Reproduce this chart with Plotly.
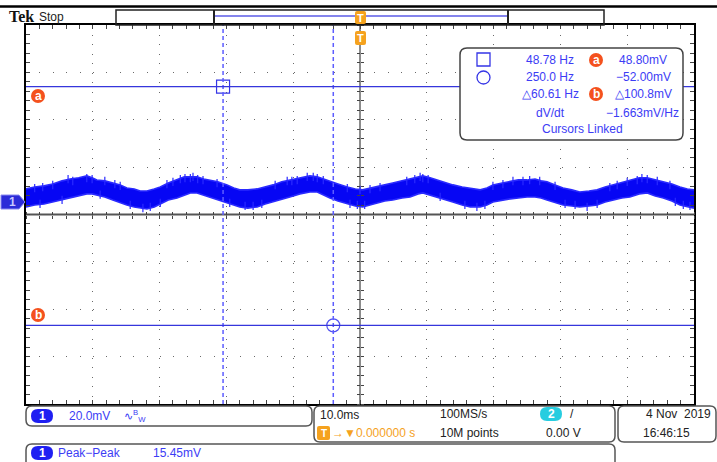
import plotly.graph_objects as go

# ------------------------------------------------------------------ data
# time (ms, trigger at 0) and the noisy band envelope of channel 1 (mV)
t_ms = [-50.0, -48.7, -47.3, -46.0, -44.6, -43.4, -42.1, -40.9, -40.1, -39.4,
        -38.2, -37.0, -35.9, -34.9, -33.8, -32.9, -31.9, -30.8, -29.9, -28.7,
        -27.4, -26.3, -25.4, -24.4, -23.4, -22.5, -21.3, -19.9, -18.9, -18.0,
        -16.8, -15.4, -14.2, -13.0, -11.7, -10.5, -9.0, -7.5, -6.4, -5.5,
        -4.5, -3.3, -1.9, -0.7, 0.4, 1.5, 2.5, 3.7, 4.9, 6.3,
        7.5, 8.7, 9.4, 10.5, 11.5, 12.7, 13.9, 15.3, 16.5, 18.0,
        19.0, 19.9, 21.3, 22.5, 23.7, 25.0, 26.2, 27.1, 28.0, 29.2,
        30.4, 31.7, 32.9, 34.3, 35.5, 36.7, 37.9, 39.2, 40.4, 41.8,
        43.0, 44.2, 45.4, 46.7, 47.9, 49.0, 50.0]
upper_mV = [5.6, 6.4, 6.9, 7.7, 9.0, 9.8, 10.3, 11.1, 10.3, 9.4,
            9.0, 8.1, 7.3, 6.0, 5.6, 4.7, 4.7, 5.6, 6.4, 8.1,
            9.4, 10.7, 10.7, 10.7, 9.8, 9.4, 8.6, 7.3, 6.0, 5.2,
            5.2, 5.6, 6.4, 7.3, 8.6, 9.4, 10.3, 11.1, 10.7, 9.8,
            8.6, 7.7, 6.4, 5.6, 5.2, 6.0, 6.4, 7.3, 8.1, 9.0,
            9.8, 10.7, 11.1, 10.3, 9.4, 8.6, 7.3, 6.4, 6.0, 5.2,
            6.0, 7.3, 8.1, 8.6, 9.4, 9.4, 9.8, 9.0, 8.6, 7.3,
            6.0, 5.2, 4.3, 4.7, 5.2, 6.4, 7.3, 8.6, 9.4, 10.3,
            10.3, 9.4, 8.6, 7.7, 6.4, 5.6, 5.2]
lower_mV = [-2.0, -1.2, -0.8, 0.1, 0.9, 1.8, 2.6, 3.5, 3.5, 3.0,
            2.2, 0.9, -0.3, -1.2, -2.0, -2.5, -2.9, -2.0, -0.8, 0.9,
            1.8, 3.0, 3.9, 3.9, 3.0, 2.2, 0.9, -0.3, -1.2, -2.0,
            -2.5, -2.0, -0.8, 0.1, 1.4, 2.2, 3.5, 4.3, 4.3, 3.0,
            1.8, 0.5, -0.8, -1.6, -2.0, -1.2, -0.3, 0.5, 0.9, 1.8,
            2.2, 3.5, 3.9, 3.0, 2.2, 1.4, 0.1, -1.2, -2.0, -2.0,
            -1.2, 0.1, 0.9, 1.4, 1.8, 2.2, 2.2, 1.8, 0.9, -0.3,
            -1.2, -1.6, -2.0, -1.6, -1.2, 0.1, 0.9, 1.8, 2.2, 3.5,
            3.9, 2.6, 1.8, 0.5, -1.2, -2.0, -2.5]
# noise spikes poking out of the band (time ms, tip mV)
spike_up_t = [-48.7, -47.5, -46.0, -43.7, -43.0, -40.9, -40.1, -38.2, -36.7, -35.9,
              -28.9, -28.0, -26.9, -26.2, -25.4, -25.0, -24.3, -23.5, -21.4, -12.7,
              -10.9, -10.2, -9.4, -7.9, -7.0, -6.4, -5.5, -1.9, 0.0, 1.5,
              3.0, 7.0, 8.2, 9.0, 9.4, 10.2, 19.9, 21.4, 22.9, 24.4,
              25.4, 26.9, 29.2, 37.4, 38.5, 40.0, 41.5, 42.2, 43.0, 44.5, 46.4]
spike_up_mV = [7.7, 8.1, 9.0, 11.5, 10.7, 11.9, 11.5, 10.7, 9.4, 8.6,
               9.4, 10.3, 11.5, 11.9, 11.9, 12.4, 11.5, 11.1, 9.8, 9.0,
               10.7, 10.7, 11.1, 12.4, 12.4, 11.9, 11.1, 7.7, 6.9, 7.3,
               8.1, 10.7, 11.5, 12.4, 11.9, 11.5, 8.6, 9.4, 10.7, 10.7,
               11.1, 10.7, 8.6, 8.1, 9.0, 10.3, 11.1, 11.9, 11.5, 10.7, 9.0]
spike_dn_t = [-47.9, -44.6, -38.9, -34.4, -32.5, -31.4, -29.9, -19.5, -17.2, -16.0,
              -14.7, -1.5, -0.4, 0.7, 12.0, 15.7, 17.5, 18.7, 30.7, 32.2,
              34.0, 35.5, 47.2, 48.4, 49.4]
spike_dn_mV = [-2.5, -0.8, 1.4, -2.9, -4.2, -3.7, -2.0, -2.0, -3.3, -3.3,
               -2.5, -2.5, -2.9, -2.9, 0.5, -2.9, -3.7, -2.9, -2.5, -2.9,
               -3.7, -2.5, -1.6, -2.9, -3.3]

# cursors (time ms, level mV)
cursor_t_ms = [-20.5, -4.0]
cursor_v_mV = [48.80, -52.00]

# scope settings
mv_per_div = 20.0
ms_per_div = 10.0
ch1_position_div = 0.26
n_xdiv, n_ydiv = 10, 8

# readout texts
readout_freq = ["48.78 Hz", "250.0 Hz", "\u25B360.61 Hz", "dV/dt"]
readout_volt = ["48.80mV", "\u221252.00mV", "\u25B3100.8mV", "\u22121.663mV/Hz"]
readout_foot = "Cursors Linked"
ch1_scale = "20.0mV"
timebase = "10.0ms"
trig_pos = "\u25BC0.000000 s"
sample_rate = "100MS/s"
record_len = "10M points"
trig_level = "0.00 V"
date_str = "4 Nov  2019"
time_str = "16:46:15"
meas_name = "Peak\u2212Peak"
meas_val = "15.45mV"

# ------------------------------------------------------------------ layout geometry
W, H = 717, 462
L, R, T, B = 26, 694, 25, 404
FONT = "Liberation Sans"
BLUE_TXT = "#3c3cf5"
TRACE = "#0606f4"
EDGE = "#2a2aff"
ORANGE = "#f5a21e"
AB_RED = "#f4511e"
GRID = "#6a6a6a"

ymid_mV = -ch1_position_div * mv_per_div
half_h = n_ydiv / 2 * mv_per_div
half_w = n_xdiv / 2 * ms_per_div
x_major = [ms_per_div * k for k in range(-n_xdiv // 2 + 1, n_xdiv // 2)]
y_major = [ymid_mV + mv_per_div * k for k in range(-n_ydiv // 2 + 1, n_ydiv // 2) if k != 0]


def px(X):
    return (X - L) / (R - L)


def py(Y):
    return (B - Y) / (B - T)


def rrect(x0, y0, x1, y1, r):
    rx, ry = r / (R - L), r / (B - T)
    a0, b0, a1, b1 = px(x0), py(y1), px(x1), py(y0)
    return (f"M{a0+rx},{b0} L{a1-rx},{b0} Q{a1},{b0} {a1},{b0+ry} "
            f"L{a1},{b1-ry} Q{a1},{b1} {a1-rx},{b1} L{a0+rx},{b1} "
            f"Q{a0},{b1} {a0},{b1-ry} L{a0},{b0+ry} Q{a0},{b0} {a0+rx},{b0} Z")


fig = go.Figure()

# waveform band
fig.add_trace(go.Scatter(x=t_ms, y=lower_mV, mode="lines",
                         line=dict(color=EDGE, width=1.6), hoverinfo="skip", showlegend=False))
fig.add_trace(go.Scatter(x=t_ms, y=upper_mV, mode="lines",
                         fill="tonexty", fillcolor=TRACE,
                         line=dict(color=EDGE, width=1.6), hoverinfo="skip", showlegend=False))
sx, sy = [], []
for t, v in zip(spike_up_t, spike_up_mV):
    sx += [t, t, None]
    sy += [v, v - 3.5, None]
for t, v in zip(spike_dn_t, spike_dn_mV):
    sx += [t, t, None]
    sy += [v, v + 3.5, None]
fig.add_trace(go.Scatter(x=sx, y=sy, mode="lines",
                         line=dict(color=EDGE, width=1.2), hoverinfo="skip", showlegend=False))

# cursor markers
fig.add_trace(go.Scatter(x=[cursor_t_ms[0]], y=[cursor_v_mV[0]], mode="markers",
                         marker=dict(symbol="square-open", size=13, color="#3535e6", line=dict(width=1.2)),
                         hoverinfo="skip", showlegend=False))
fig.add_trace(go.Scatter(x=[cursor_t_ms[1]], y=[cursor_v_mV[1]], mode="markers",
                         marker=dict(symbol="circle-open", size=13, color="#5050f0", line=dict(width=1.2)),
                         hoverinfo="skip", showlegend=False))

# dummy traces so the centre-tick axes exist
for xa, ya in [("x2", "y"), ("x3", "y"), ("x", "y2"), ("x", "y3")]:
    fig.add_trace(go.Scatter(x=[None], y=[None], xaxis=xa, yaxis=ya, showlegend=False, hoverinfo="skip"))

shapes = []
shapes.append(dict(type="line", xref="paper", yref="y", x0=0, x1=1, y0=ymid_mV, y1=ymid_mV,
                   line=dict(color="#555", width=2), layer="below"))
for t in cursor_t_ms:
    shapes.append(dict(type="line", xref="x", yref="paper", x0=t, x1=t, y0=0, y1=1,
                       line=dict(color="#5d5dff", width=1.5, dash="4px,3px"), layer="above"))
for v in cursor_v_mV:
    shapes.append(dict(type="line", xref="paper", yref="y", x0=0, x1=1, y0=v, y1=v,
                       line=dict(color="#3636dc", width=1.2), layer="above"))

# readout box
shapes.append(dict(type="path", xref="paper", yref="paper", path=rrect(460, 48, 683, 140, 7),
                   fillcolor="white", line=dict(color="#444", width=1.5), layer="above"))
shapes.append(dict(type="rect", xref="paper", yref="paper", x0=px(477), x1=px(490), y0=py(66), y1=py(53),
                   line=dict(color="#3535e6", width=1.3), layer="above"))
shapes.append(dict(type="circle", xref="paper", yref="paper", x0=px(477), x1=px(490), y0=py(84), y1=py(71),
                   line=dict(color="#3535e6", width=1.3), layer="above"))
for cy in (60, 94):
    shapes.append(dict(type="circle", xref="paper", yref="paper", x0=px(589), x1=px(603),
                       y0=py(cy + 7), y1=py(cy - 7), layer="above", fillcolor=AB_RED, line=dict(width=0)))
for cy in (96, 315):
    shapes.append(dict(type="circle", xref="paper", yref="paper", x0=px(31), x1=px(45), y0=py(cy + 7), y1=py(cy - 7),
                       layer="above", fillcolor=AB_RED, line=dict(width=0)))

# channel 1 ground marker
shapes.append(dict(type="path", xref="paper", yref="paper",
                   path=f"M{px(1)},{py(195)} L{px(19)},{py(195)} L{px(25)},{py(202)} L{px(19)},{py(209)} L{px(1)},{py(209)} Z",
                   fillcolor="#2b2bd8", line=dict(color="#8a8af0", width=1), layer="above"))

# top bar
shapes.append(dict(type="line", xref="paper", yref="paper", x0=px(0), x1=px(717), y0=py(6.5), y1=py(6.5),
                   line=dict(color="black", width=2.5)))
shapes.append(dict(type="rect", xref="paper", yref="paper", x0=px(116), x1=px(604), y0=py(25), y1=py(10),
                   line=dict(color="#222", width=1.5)))
shapes.append(dict(type="line", xref="paper", yref="paper", x0=px(215), x1=px(507), y0=py(16), y1=py(16),
                   line=dict(color="#8484ec", width=2)))
for xx in (214, 508):
    shapes.append(dict(type="line", xref="paper", yref="paper", x0=px(xx), x1=px(xx), y0=py(25), y1=py(10),
                       line=dict(color="#222", width=2)))
shapes.append(dict(type="path", xref="paper", yref="paper", path=rrect(355, 11, 366, 24, 2),
                   fillcolor=ORANGE, line=dict(width=0), layer="above"))
shapes.append(dict(type="path", xref="paper", yref="paper", path=rrect(355, 31, 366, 45, 2),
                   fillcolor=ORANGE, line=dict(width=0), layer="above"))

# bottom boxes
for (x0, y0, x1, y1) in [(26, 406, 312, 426), (314, 406, 615, 442), (618, 406, 716, 442), (26, 444, 615, 475)]:
    shapes.append(dict(type="path", xref="paper", yref="paper", path=rrect(x0, y0, x1, y1, 6),
                       fillcolor="white", line=dict(color="#555", width=1.5)))
for (x0, y0, x1, y1) in [(31, 409, 53, 423), (31, 446, 53, 460)]:
    shapes.append(dict(type="path", xref="paper", yref="paper", path=rrect(x0, y0, x1, y1, 7),
                       fillcolor="#1f1ff2", line=dict(width=0)))
shapes.append(dict(type="path", xref="paper", yref="paper", path=rrect(540, 407, 562, 421, 7),
                   fillcolor="#27cde0", line=dict(width=0)))
shapes.append(dict(type="path", xref="paper", yref="paper", path=rrect(317, 426, 330, 440, 2),
                   fillcolor=ORANGE, line=dict(width=0)))

annotations = []


def txt(X, Y, s, color="#222", size=12, anchor="left", family=FONT, bold=False):
    if bold:
        s = f"<b>{s}</b>"
    annotations.append(dict(xref="paper", yref="paper", x=px(X), y=py(Y), text=s, showarrow=False,
                            xanchor=anchor, yanchor="middle", font=dict(family=family, size=size, color=color)))


txt(7, 17, "Tek", color="#111", size=16, family="Liberation Serif", bold=True)
txt(37, 17, "Stop", color="#222", size=12)
txt(360.5, 18, "T", color="white", size=11, anchor="center", bold=True)
txt(360.5, 38, "T", color="white", size=11, anchor="center", bold=True)
txt(12, 202, "1", color="#c8c8ff", size=12, anchor="center", bold=True)
txt(38, 96, "a", color="white", size=12, anchor="center", bold=True)
txt(38, 315, "b", color="white", size=12, anchor="center", bold=True)

row_y = [60, 77, 94, 113]
for i, y in enumerate(row_y):
    txt(550, y, readout_freq[i], color=BLUE_TXT, anchor="center")
for i, y in enumerate(row_y[:3]):
    txt(643, y, readout_volt[i], color=BLUE_TXT, anchor="center")
txt(604, row_y[3], readout_volt[3], color=BLUE_TXT, anchor="left")
txt(596, 60, "a", color="white", size=12, anchor="center", bold=True)
txt(596, 94, "b", color="white", size=12, anchor="center", bold=True)
txt(582, 129, readout_foot, color=BLUE_TXT, anchor="center")

txt(42, 416, "1", color="white", size=12, anchor="center", bold=True)
txt(67, 416, ch1_scale, color=BLUE_TXT)
txt(122, 416, "\u223F<sup>B</sup><sub>W</sub>", color=BLUE_TXT, size=11)
txt(318, 415, timebase, color="#222")
txt(323.5, 433, "T", color="white", size=10, anchor="center", bold=True)
txt(330, 433, "\u2192" + trig_pos, color=ORANGE)
txt(438, 414, sample_rate, color="#222")
txt(438, 433, record_len, color="#222")
txt(551, 414, "2", color="white", size=12, anchor="center", bold=True)
txt(568, 414, "/", color="#222", size=12)
txt(544, 433, trig_level, color="#222")
txt(713, 414, date_str, color="#222", anchor="right")
txt(641, 433, time_str, color="#222")
txt(42, 453, "1", color="white", size=12, anchor="center", bold=True)
txt(56, 453, meas_name, color=BLUE_TXT)
txt(151, 453, meas_val, color=BLUE_TXT)

tickstyle = dict(tickcolor="#444", tickwidth=1)
fig.update_layout(
    width=W, height=H, autosize=False,
    margin=dict(l=L, r=W - R, t=T, b=H - B, pad=0),
    paper_bgcolor="white", plot_bgcolor="white",
    showlegend=False,
    xaxis=dict(range=[-half_w, half_w], tickvals=x_major, showticklabels=False,
               showgrid=True, gridcolor=GRID, gridwidth=1, griddash="1px,8.5px",
               zeroline=True, zerolinecolor="#8c8c8c", zerolinewidth=2,
               showline=True, linecolor="black", linewidth=2, mirror="allticks",
               ticks="inside", ticklen=4, **tickstyle,
               minor=dict(tick0=0, dtick=ms_per_div / 5, ticks="inside", ticklen=2, showgrid=False, **tickstyle)),
    yaxis=dict(range=[ymid_mV - half_h, ymid_mV + half_h], tickvals=y_major, showticklabels=False,
               showgrid=True, gridcolor=GRID, gridwidth=1, griddash="1px,12.4px",
               zeroline=False,
               showline=True, linecolor="black", linewidth=1.5, mirror="allticks",
               ticks="inside", ticklen=4, **tickstyle,
               minor=dict(tick0=ymid_mV, dtick=mv_per_div / 5, ticks="inside", ticklen=2, showgrid=False, **tickstyle)),
    xaxis2=dict(overlaying="x", anchor="free", position=0.5, range=[-half_w, half_w], showticklabels=False,
                showgrid=False, zeroline=False, showline=False, tickvals=[],
                minor=dict(tick0=0, dtick=ms_per_div / 5, ticks="outside", ticklen=3, **tickstyle)),
    xaxis3=dict(overlaying="x", anchor="free", position=0.5, range=[-half_w, half_w], showticklabels=False,
                showgrid=False, zeroline=False, showline=False, tickvals=[],
                minor=dict(tick0=0, dtick=ms_per_div / 5, ticks="inside", ticklen=3, **tickstyle)),
    yaxis2=dict(overlaying="y", anchor="free", position=0.5, range=[ymid_mV - half_h, ymid_mV + half_h],
                showticklabels=False, showgrid=False, zeroline=False, showline=False, tickvals=[],
                minor=dict(tick0=ymid_mV, dtick=mv_per_div / 5, ticks="outside", ticklen=3, **tickstyle)),
    yaxis3=dict(overlaying="y", anchor="free", position=0.5, range=[ymid_mV - half_h, ymid_mV + half_h],
                showticklabels=False, showgrid=False, zeroline=False, showline=False, tickvals=[],
                minor=dict(tick0=ymid_mV, dtick=mv_per_div / 5, ticks="inside", ticklen=3, **tickstyle)),
    shapes=shapes,
    annotations=annotations,
)

fig.write_html("out.html", config={"displayModeBar": False},
               post_script="document.body.style.margin='0';")
